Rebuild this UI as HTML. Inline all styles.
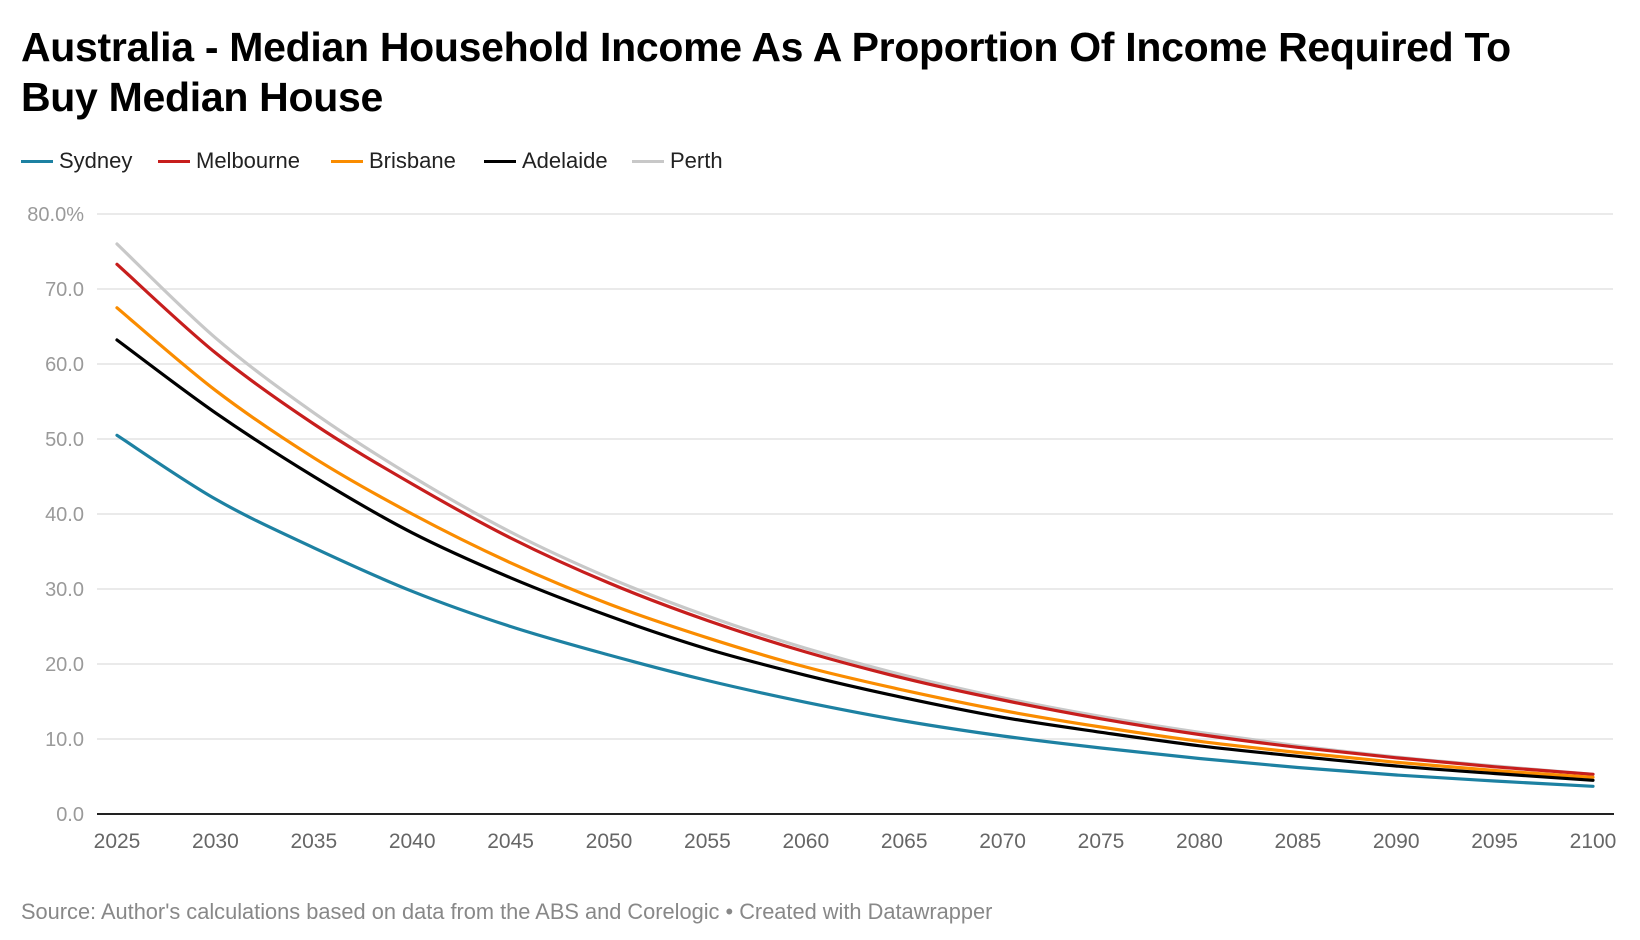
<!DOCTYPE html>
<html><head><meta charset="utf-8"><style>
body{margin:0;background:#fff;width:1640px;height:940px;overflow:hidden;font-family:"Liberation Sans",sans-serif}
#title{position:absolute;left:21px;top:22px;width:1545px;font-size:41px;font-weight:bold;line-height:50px;color:#000;letter-spacing:-0.3px}
#legend{position:absolute;left:0;top:0}
.li{position:absolute;top:149px;font-size:22px;color:#222;height:24px;line-height:24px}
.sw{position:absolute;top:11px;width:32px;height:3px}
#source{position:absolute;left:21px;top:899px;font-size:21.8px;color:#888}
</style></head><body>
<div id="title">Australia - Median Household Income As A Proportion Of Income Required To Buy Median House</div>
<div id="legend"></div>
<svg id="chart" width="1640" height="940" style="position:absolute;left:0;top:0"></svg>
<div id="source">Source: Author's calculations based on data from the ABS and Corelogic • Created with Datawrapper</div>
<script>
const years=[2025,2030,2035,2040,2045,2050,2055,2060,2065,2070,2075,2080,2085,2090,2095,2100];
const seriesNames=["Perth","Melbourne","Brisbane","Adelaide","Sydney"];
const perth=[76,63.5,53.5,45,37.6,31.5,26.4,22.1,18.5,15.5,13.0,10.9,9.1,7.6,6.4,5.3];
const melbourne=[73.3,61.5,52,44,36.8,30.8,25.8,21.6,18.1,15.2,12.7,10.6,8.9,7.5,6.3,5.3];
const brisbane=[67.5,56.5,47.5,40,33.5,28,23.5,19.6,16.5,13.8,11.6,9.7,8.2,6.9,5.8,4.9];
const adelaide=[63.2,53.5,45,37.5,31.5,26.4,22,18.5,15.5,12.9,10.9,9.1,7.7,6.4,5.4,4.5];
const sydney=[50.5,42,35.5,29.7,25,21.2,17.8,14.9,12.4,10.4,8.8,7.4,6.2,5.2,4.4,3.7];
const yTicks=[0,10,20,30,40,50,60,70,80];
const yTickLabels=["0.0","10.0","20.0","30.0","40.0","50.0","60.0","70.0","80.0%"];
const xTicks=[2025,2030,2035,2040,2045,2050,2055,2060,2065,2070,2075,2080,2085,2090,2095,2100];
const colors={Perth:"#c8c8c8",Melbourne:"#c71e1d",Brisbane:"#fa8c00",Adelaide:"#000000",Sydney:"#1d81a2"};
const dataMap={Perth:perth,Melbourne:melbourne,Brisbane:brisbane,Adelaide:adelaide,Sydney:sydney};
const ns="http://www.w3.org/2000/svg";
const svg=document.getElementById('chart');
const x=v=>117+(v-2025)*(1593-117)/75;
const y=v=>814-v*7.5;
function mk(t,a){const e=document.createElementNS(ns,t);for(const k in a)e.setAttribute(k,a[k]);svg.appendChild(e);return e;}
function smooth(pts){
  let d='M'+pts[0][0].toFixed(1)+','+pts[0][1].toFixed(1);
  for(let i=0;i<pts.length-1;i++){
    const p0=pts[Math.max(i-1,0)],p1=pts[i],p2=pts[i+1],p3=pts[Math.min(i+2,pts.length-1)];
    const c1=[p1[0]+(p2[0]-p0[0])/6,p1[1]+(p2[1]-p0[1])/6];
    const c2=[p2[0]-(p3[0]-p1[0])/6,p2[1]-(p3[1]-p1[1])/6];
    d+='C'+c1.map(v=>v.toFixed(1)).join(',')+' '+c2.map(v=>v.toFixed(1)).join(',')+' '+p2.map(v=>v.toFixed(1)).join(',');
  }
  return d;
}
yTicks.forEach((t,i)=>{
  if(t>0){const g=mk('line',{x1:97,x2:1613,y1:y(t),y2:y(t),stroke:'#e3e3e3','stroke-width':1.5});
  
  }
  const l=mk('text',{x:84,y:y(t)+7,'text-anchor':'end','font-size':20,fill:'#9a9a9a','font-family':'Liberation Sans, sans-serif'});
  l.textContent=yTickLabels[i];
  
  
});
const ax=mk('line',{x1:97,x2:1614,y1:814,y2:814,stroke:'#222','stroke-width':2});


xTicks.forEach(t=>{
  const l=mk('text',{x:x(t),y:848,'text-anchor':'middle','font-size':21,fill:'#666','font-family':'Liberation Sans, sans-serif'});
  l.textContent=t;
  
  
});
seriesNames.forEach(n=>{
  const pts=dataMap[n].map((v,i)=>[x(years[i]),y(v)]);
  const p=mk('path',{d:smooth(pts),fill:'none',stroke:colors[n],'stroke-width':3.2,'stroke-linejoin':'round','stroke-linecap':'round'});
  
  
});
const leg=document.getElementById('legend');
const legOrder=["Sydney","Melbourne","Brisbane","Adelaide","Perth"];
const legX=[21,158,331,484,632];
legOrder.forEach((n,i)=>{
  const d=document.createElement('div');d.className='li';d.style.left=legX[i]+'px';
  
  
  d.innerHTML='<span class="sw" style="left:0;background:'+colors[n]+'"></span><span style="margin-left:38px">'+n+'</span>';
  leg.appendChild(d);
});
</script>
</body></html>
